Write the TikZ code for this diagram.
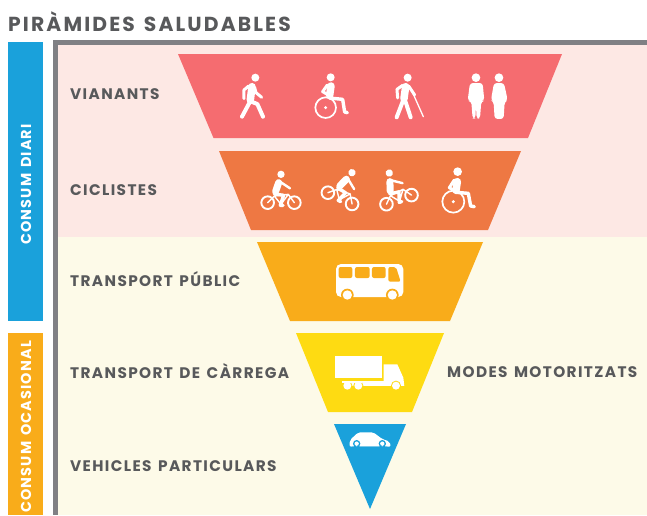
\documentclass[tikz,border=0pt]{standalone}
\usepackage{fontspec}
\setmainfont{Poppins}
\newfontfamily\titlef{Poppins}[LetterSpace=10.5,WordSpace=1.4]
\newfontfamily\labf{Poppins}[LetterSpace=9,WordSpace=1.4]
\newfontfamily\sidef{Poppins}[LetterSpace=8,WordSpace=1.4]
\definecolor{inkgray}{HTML}{58595B}
\definecolor{framegray}{HTML}{808084}
\definecolor{pinkbg}{HTML}{FDE8E4}
\definecolor{creambg}{HTML}{FDFAE8}
\definecolor{lvla}{HTML}{F56C70}
\definecolor{lvlb}{HTML}{EE7843}
\definecolor{lvlc}{HTML}{F9AC1A}
\definecolor{lvld}{HTML}{FEDB12}
\definecolor{lvle}{HTML}{1AA1DB}
\tikzset{
  lab/.style={anchor=base west,inner sep=0pt,text=inkgray,font=\labf\fontsize{15.3}{17}\selectfont\bfseries},
  sidelab/.style={rotate=90,anchor=base west,inner sep=0pt,text=white,font=\sidef\fontsize{14.4}{16}\selectfont\bfseries},
  ic/.style={draw=white,line cap=round,line join=round},
  zoomA/.style={shift={(170,40)},x=.3333pt,y=-.3333pt},
  zoomB/.style={shift={(210,145)},x=.3333pt,y=-.3333pt},
  zoomC/.style={shift={(290,240)},x=.3333pt,y=-.3333pt},
  pics/cyclist/.style={code={
    \fill[white] (0,-85) circle (11);
    \draw[ic,line width=1.9pt] (-40,0) circle (19) (40,0) circle (19);
    \draw[ic,line width=1.4pt] (-40,0)--(-20,-20)--(22,-25)--(40,0) (-20,-20)--(0,5)--(22,-25);
    \draw[ic,line width=7pt] (-7,-60)--(-16,-34);
    \draw[ic,line width=2.4pt] (-6,-65)--(27,-43);
    \draw[ic,line width=3.4pt] (-20,-26)--(8,-22)--(-2,8)--(6,8);
  }},
}
\begin{document}
\begin{tikzpicture}[x=1pt,y=-1pt]
\useasboundingbox (0,0) rectangle (647,515);
\clip (0,0) rectangle (647,515);
% panels
\fill[framegray] (53,40) rectangle (647,515);
\fill[pinkbg] (58,45) rectangle (647,237);
\fill[creambg] (58,237) rectangle (647,515);
% side bars
\fill[lvle] (8,42) rectangle (43,321);
\fill[lvlc] (8,333) rectangle (43,515);
% levels
\fill[lvla] (178,54)--(562,54)--(528,138)--(213.5,138)--cycle;
\fill[lvlb] (219,151)--(521,151)--(488,230)--(251,230)--cycle;
\fill[lvlc] (257,242)--(483,242)--(450,321)--(290,321)--cycle;
\fill[lvld] (296,333)--(444,333)--(412,412)--(328,412)--cycle;
\fill[lvle] (334,424)--(406,424)--(370,509)--cycle;
% texts
\node[anchor=base west,inner sep=0pt,text=inkgray,font=\titlef\fontsize{20.3}{22}\selectfont\bfseries] (title) at (8,31) {PIRÀMIDES SALUDABLES};
\node[lab] (l1) at (70,99.5) {VIANANTS};
\node[lab] (l2) at (70,195) {CICLISTES};
\node[lab] (l3) at (70,286.5) {TRANSPORT PÚBLIC};
\node[lab] (l4) at (70,378) {TRANSPORT DE CÀRREGA};
\node[lab] (l5) at (70,471) {VEHICLES PARTICULARS};
\node[lab] (l6) at (447,377) {MODES MOTORITZATS};
\node[sidelab] (s1) at (31,245) {CONSUM DIARI};
\node[sidelab] (s2) at (31,513) {CONSUM OCASIONAL};
% pedestrian icons
\begin{scope}[zoomA]
  % walker
  \fill[white] (256,113) circle (12);
  \draw[ic,line width=7.5pt] (246,140)--(241,180);
  \draw[ic,line width=4pt] (240,185)--(216,230) (244,185)--(262,192)--(279,230);
  \draw[ic,line width=3pt] (236,138)--(222,150)--(222,176) (254,142)--(258,158)--(275,172);
  % wheelchair
  \fill[white] (482,112) circle (12);
  \draw[ic,line width=7.5pt] (483,138)--(479,166);
  \draw[ic,line width=3pt] (472,135)--(458,155)--(470,162);
  \draw[ic,line width=3.4pt] (478,174)--(518,178)--(524,216)--(532,218);
  \draw[ic,line width=1.7pt] (467,203) circle (31);
  \fill[white] (467,203) circle (5);
  % cane
  \fill[white] (713,113) circle (12);
  \draw[ic,line width=7.5pt] (707,140)--(702,176);
  \draw[ic,line width=4pt] (700,180)--(680,232) (705,180)--(722,232);
  \draw[ic,line width=3pt] (698,136)--(681,148)--(683,174) (716,138)--(734,165);
  \draw[ic,line width=1.3pt] (728,158)--(760,230);
  % people
  \fill[white] (918,113) circle (13) (987,113) circle (13);
  \fill[white,rounded corners=3pt] (900,129)--(938,129)--(943,182)--(934,184)--(930,236)--(920,236)--(918,198)--(916,236)--(908,236)--(904,184)--(893,182)--cycle;
  \fill[white,rounded corners=3pt] (972,129)--(1002,129)--(1013,180)--(1004,186)--(1001,237)--(974,237)--(971,186)--(963,180)--cycle;
\end{scope}
% cyclists
\begin{scope}[zoomB]
  \pic at (213,173) {cyclist};
  \pic[rotate=-25] at (390,160) {cyclist};
  \pic[rotate=20] at (567,164) {cyclist};
  \fill[white] (743,80) circle (13);
  \draw[ic,line width=7.5pt] (742,110)--(738,136);
  \draw[ic,line width=3pt] (733,105)--(718,128)--(730,135);
  \draw[ic,line width=3.4pt] (738,142)--(775,145)--(782,183)--(793,185);
  \draw[ic,line width=1.7pt] (730,170) circle (33);
  \fill[white] (730,170) circle (5);
\end{scope}
% vehicles
\begin{scope}[zoomC]
  % bus
  \fill[white,rounded corners=5pt] (138,72) rectangle (340,171);
  \fill[lvlc,rounded corners=2pt] (146,81) rectangle (187,114) (195,81) rectangle (239,114) (246,81) rectangle (287,114);
  \fill[lvlc,rounded corners=2pt] (295,81)--(318,81)--(332,125)--(295,125)--cycle;
  \fill[lvlc] (172,165) circle (19) (307,165) circle (19);
  \fill[white] (172,165) circle (14) (307,165) circle (14);
  % truck
  \fill[white] (135,348) rectangle (275,413);
  \fill[white] (180,423) rectangle (343,437);
  \fill[white] (281,373)--(322,373)--(340,413)--(343,437)--(281,437)--cycle;
  \fill[lvld] (172,437) circle (15) (205,437) circle (15) (318,437) circle (15);
  \fill[white] (172,437) circle (12) (205,437) circle (12) (318,437) circle (12);
  \fill[white] (155,423) rectangle (215,430);
  % car
  \fill[white,rounded corners=2pt] (178,620)--(180,600)--(205,577)--(250,577)--(278,598)--(298,604)--(303,620)--cycle;
  \fill[lvle] (200,611) circle (11) (277,611) circle (11) (185,620) rectangle (292,625);
  \fill[white] (200,611) circle (6.5) (277,611) circle (6.5);
\end{scope}
\end{tikzpicture}
\end{document}
